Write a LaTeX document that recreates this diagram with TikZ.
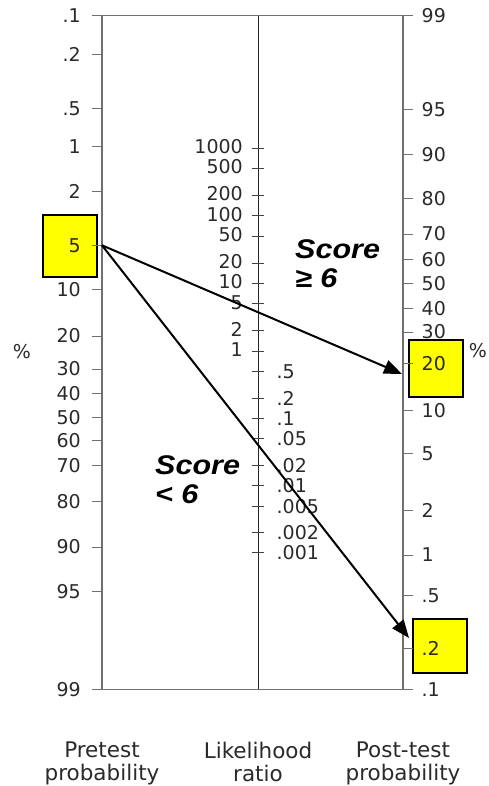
\documentclass[tikz,border=0pt]{standalone}
\usepackage{fontspec}
\setmainfont{DejaVu Sans}
\newfontfamily\scorefont[FakeStretch=1.13]{Liberation Sans}
\usepackage{xcolor}
\usepackage{tikz}
\usetikzlibrary{arrows.meta}
\definecolor{axisgray}{HTML}{707070}
\definecolor{labelgray}{HTML}{2A2A2A}
\definecolor{boxyellow}{HTML}{FFFF00}
\tikzset{
  axisline/.style={axisgray,line width=1.3pt},
  midaxis/.style={black!85,line width=1pt},
  tickmark/.style={axisgray,line width=1pt},
  midtick/.style={black!75,line width=1pt},
  ticklabel/.style={inner sep=0pt,text=labelgray,font=\fontsize{19}{23}\selectfont},
  valuebox/.style={draw=black,fill=boxyellow,line width=2pt,minimum width=54pt,inner sep=0pt},
  ratioarrow/.style={-{Triangle[length=18pt,width=14pt]},line width=2pt},
  scorelabel/.style={align=left,inner sep=0pt,font=\scorefont\bfseries\itshape\fontsize{27}{29}\selectfont},
  caption/.style={align=center,inner sep=0pt,anchor=north,text=labelgray,font=\fontsize{21.5}{23.5}\selectfont}
}
\begin{document}
\begin{tikzpicture}[x=1pt,y=-1pt]
\useasboundingbox (0,0) rectangle (489,786);
\node[valuebox,minimum height=62pt] (prebox) at (70,246) {};
\node[valuebox,minimum height=57pt] (posthighbox) at (436,368) {};
\node[valuebox,minimum height=54pt] (postlowbox) at (440,646) {};
\draw[axisline] (92,15.7) -- (413,15.7);
\draw[axisline] (92,689.3) -- (413,689.3);
\draw[axisline] (102,15.7) -- (102,689.3);
\draw[axisline] (403,15.7) -- (403,689.3);
\draw[midaxis] (258,15.7) -- (258,689.3);
\foreach \p/\y [count=\i] in {.1/15.7,.2/54.3,.5/108.3,1/147,2/191.7,5/245.3,10/289.3,20/336,30/369,40/393.3,50/417.7,60/440.7,70/465.7,80/501.3,90/547,95/591.7,99/689.3}{
  \draw[tickmark] (92,\y) -- (102,\y);
  \node[ticklabel,anchor=east] (pre\i) at (81,\y) {\p};
}
\foreach \p/\y [count=\i] in {99/15.7,95/110,90/154.3,80/199,70/234,60/259.3,50/283.3,40/308.3,30/332,20/363.3,10/410.3,5/453.3,2/510,1/555,.5/595.7,.2/648.3,.1/689.3}{
  \draw[tickmark] (403,\y) -- (413,\y);
  \node[ticklabel,anchor=west] (post\i) at (421.5,\y) {\p};
}
\foreach \v [count=\i] in {1000,500,200,100,50,20,10,5,2,1}{
  \pgfmathsetmacro{\y}{351-67.6*log10(\v)}
  \draw[midtick] (252,\y) -- (264,\y);
  \node[ticklabel,anchor=east] (lrhigh\i) at (243,\y-1.5) {\v};
}
\foreach \v [count=\i] in {.5,.2,.1,.05,.02,.01,.005,.002,.001}{
  \pgfmathsetmacro{\y}{351-67.6*log10(\v)}
  \draw[midtick] (252,\y) -- (264,\y);
  \node[ticklabel,anchor=west] (lrlow\i) at (276.5,\y) {\v};
}
\node[ticklabel] (pctleft) at (22,352) {\%};
\node[ticklabel] (pctright) at (478,351) {\%};
\node[scorelabel,anchor=north west] (scorehigh) at (295,239) {Score\\≥ 6};
\node[scorelabel,anchor=north west] (scorelow) at (155,455) {Score\\< 6};
\coordinate (pretest) at (102,245.3);
\coordinate (posthigh) at (402,374);
\coordinate (postlow) at (409,638);
\draw[ratioarrow] (pretest) -- (posthigh);
\draw[ratioarrow] (pretest) -- (postlow);
\node[caption] (pretestcap) at (102,741.5) {Pretest\\probability};
\node[caption] (ratiocap) at (258,741.5) {Likelihood\\ratio};
\node[caption] (posttestcap) at (403,741.5) {Post-test\\probability};
\end{tikzpicture}
\end{document}
